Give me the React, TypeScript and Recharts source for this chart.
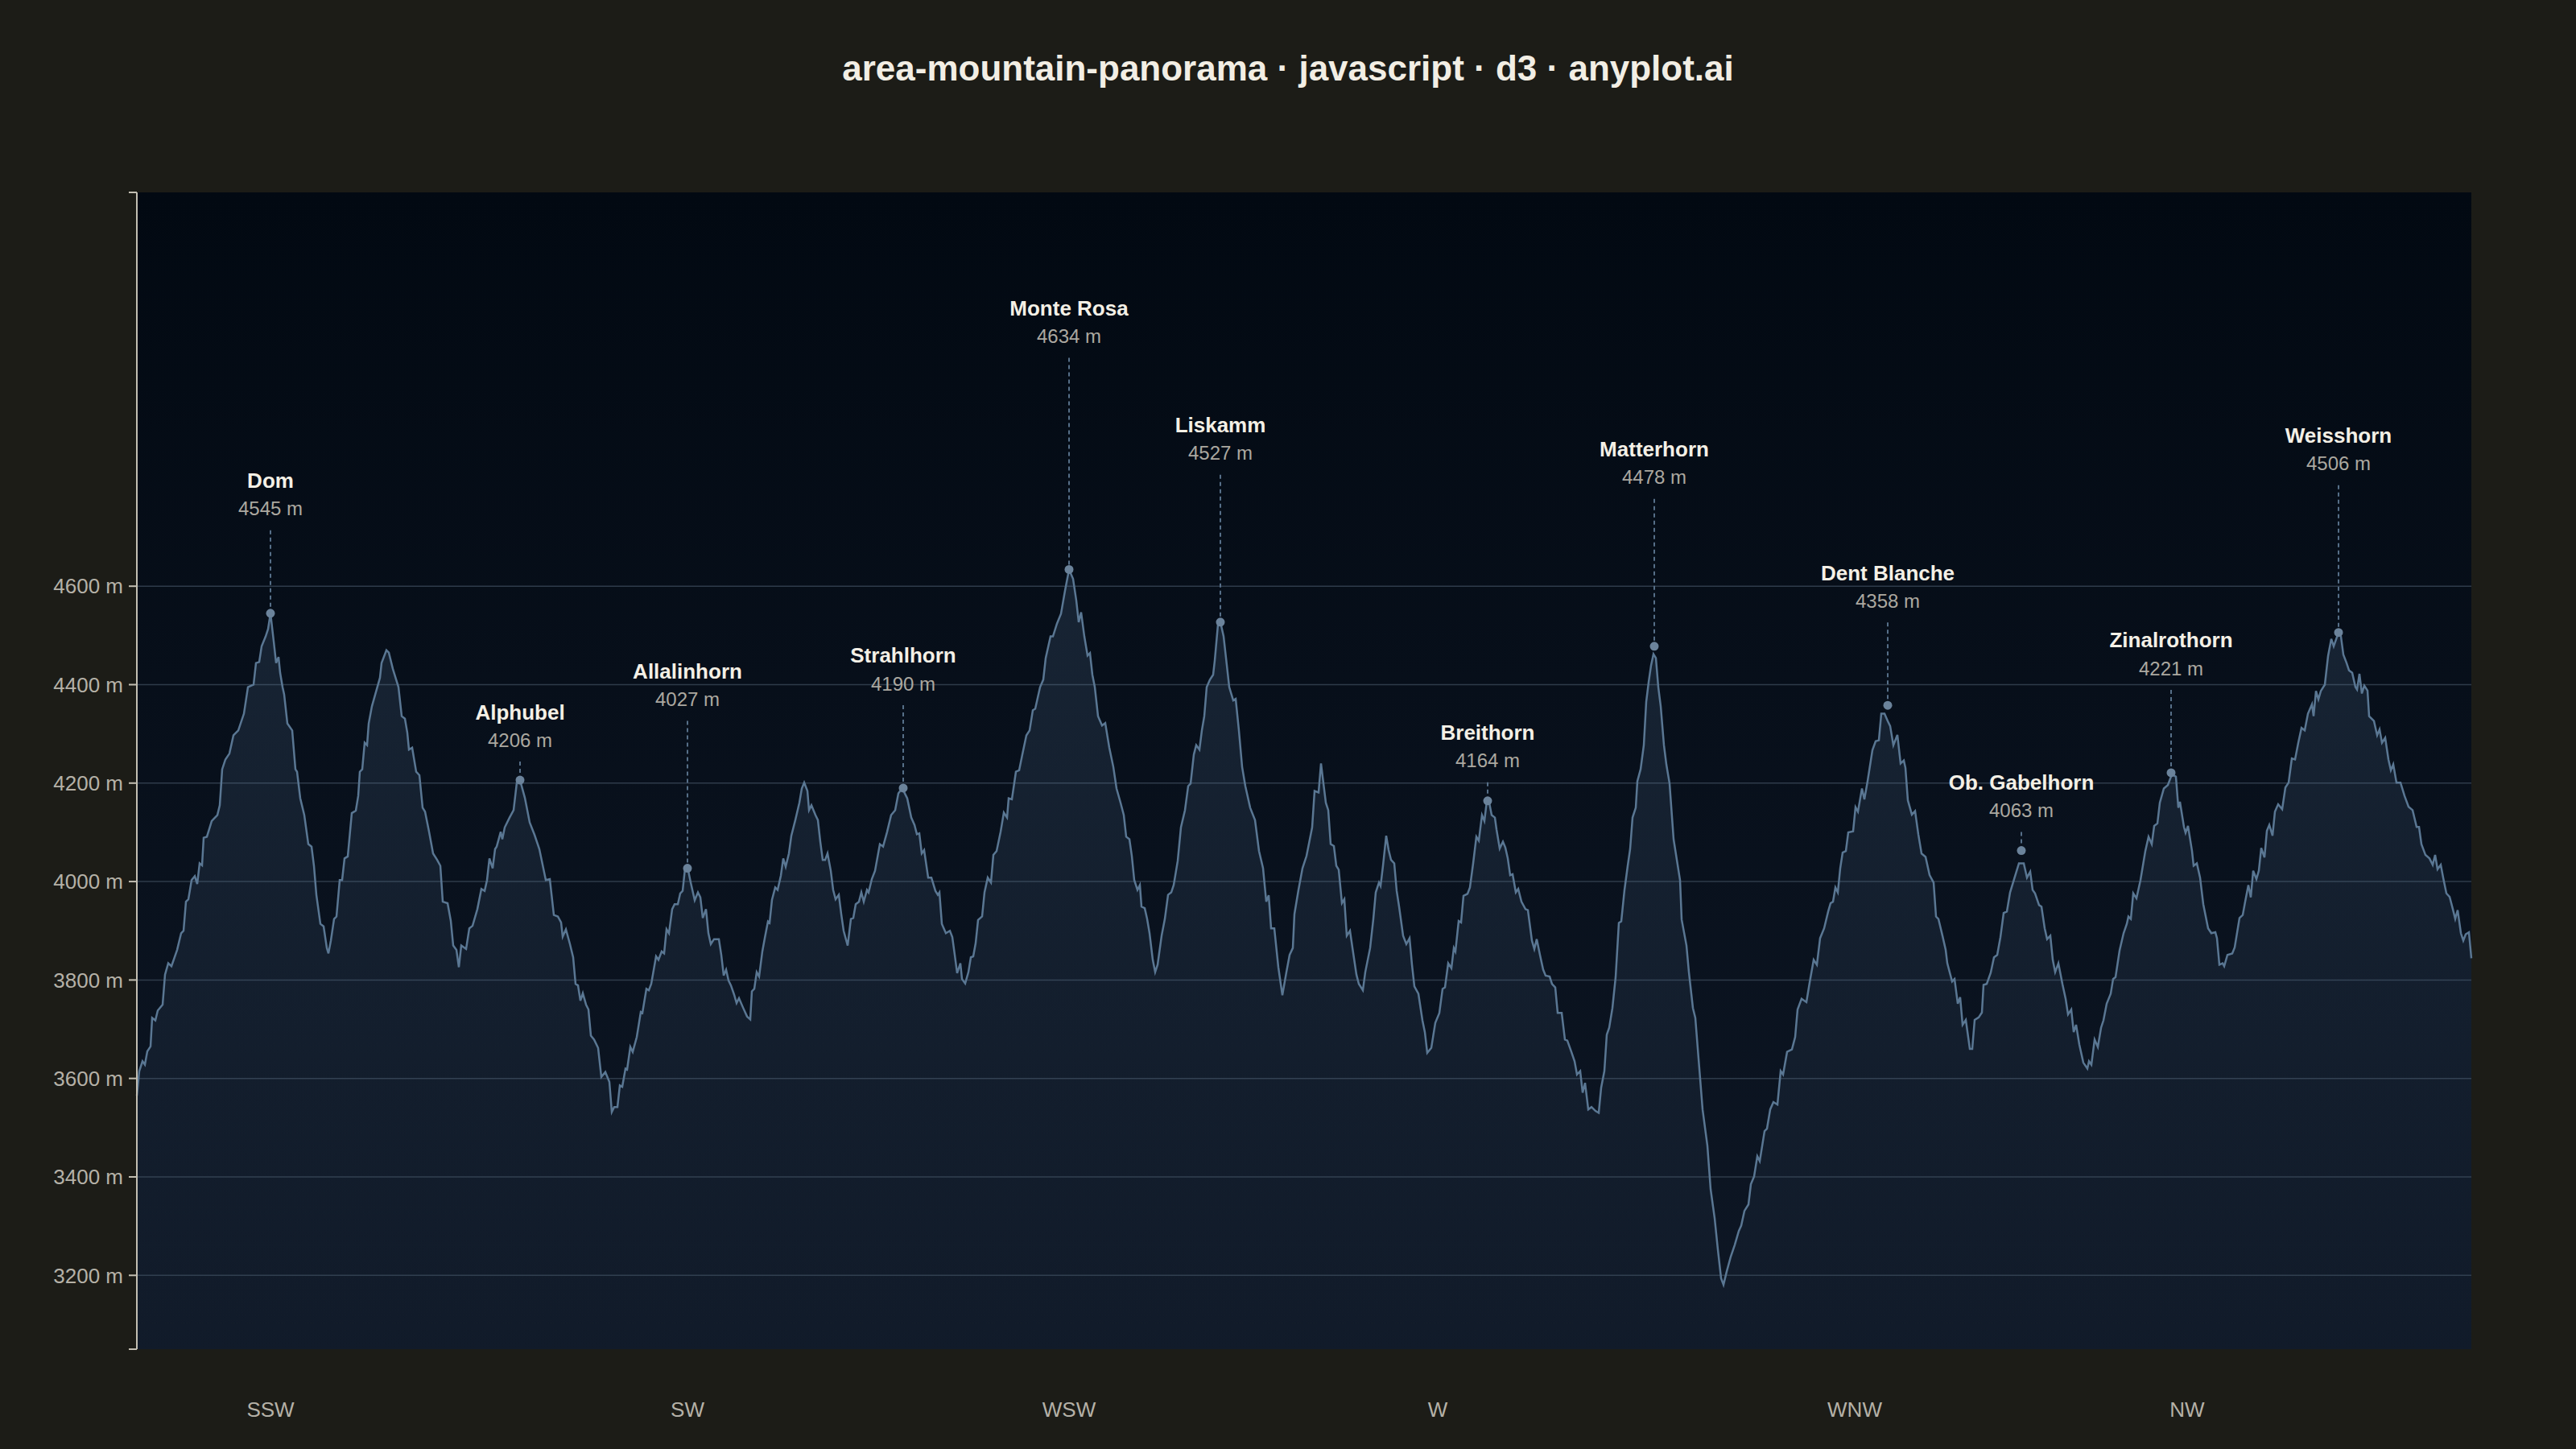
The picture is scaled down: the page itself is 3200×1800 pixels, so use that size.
import { Area, CartesianGrid, ComposedChart, Scatter, XAxis, YAxis } from "recharts";

// ridge profile, [position along panorama, elevation in m], read sector by sector
const ridgeSSW: [number, number][] = [
  [0, 3565], [3, 3615], [7, 3635], [10, 3628], [13, 3655], [17, 3665], [19, 3723], [23, 3718], [26, 3738], [32, 3750],
  [35, 3811], [39, 3834], [43, 3828], [50, 3861], [55, 3895], [58, 3900], [61, 3959], [64, 3964], [68, 4003], [72, 4011],
  [75, 3995], [78, 4037], [81, 4033], [83, 4089], [87, 4091], [93, 4123], [100, 4135], [103, 4155], [106, 4228], [110, 4248],
  [115, 4260], [120, 4297], [126, 4307], [133, 4341], [138, 4395], [145, 4400], [148, 4444], [152, 4446], [155, 4478], [160, 4498],
  [163, 4513], [166, 4545], [170, 4488], [173, 4444], [176, 4456], [178, 4424], [181, 4395], [183, 4380], [187, 4321], [193, 4307],
  [197, 4228], [199, 4223], [203, 4169], [208, 4135], [213, 4076], [217, 4071], [220, 4032], [223, 3973], [228, 3914], [232, 3909],
  [236, 3865], [238, 3854], [241, 3880], [245, 3924], [248, 3929], [252, 4003], [255, 4003], [258, 4047], [262, 4051], [267, 4139],
  [272, 4144], [275, 4174], [277, 4223], [280, 4228], [283, 4282], [286, 4277], [288, 4321], [292, 4356], [297, 4385], [302, 4414],
  [304, 4444], [310, 4470], [313, 4465], [318, 4432], [325, 4395], [329, 4336], [333, 4331], [336, 4302], [338, 4268], [342, 4272],
  [347, 4223], [351, 4216], [355, 4150], [358, 4142], [363, 4101], [368, 4057], [373, 4044], [377, 4032], [380, 3959], [386, 3956],
  [390, 3920], [393, 3870], [397, 3861], [400, 3826], [403, 3870], [409, 3863], [413, 3905], [417, 3910],
];

const ridgeSW: [number, number][] = [
  [423, 3944], [428, 3985], [432, 3981], [435, 4003], [438, 4047], [442, 4027], [445, 4066], [447, 4071], [452, 4101], [454, 4086],
  [457, 4110], [463, 4130], [468, 4145], [472, 4201], [476, 4206], [482, 4170], [488, 4120], [494, 4095], [500, 4066], [508, 4003],
  [513, 4005], [518, 3932], [523, 3929], [527, 3917], [529, 3888], [533, 3903], [538, 3873], [542, 3846], [545, 3792], [548, 3789],
  [551, 3758], [554, 3773], [558, 3750], [561, 3740], [564, 3687], [568, 3679], [573, 3662], [577, 3603], [582, 3613], [587, 3593],
  [590, 3532], [593, 3542], [597, 3542], [600, 3586], [603, 3583], [607, 3620], [609, 3618], [613, 3664], [616, 3654], [621, 3684],
  [626, 3735], [628, 3733], [633, 3782], [636, 3779], [639, 3792], [645, 3848], [648, 3841], [652, 3858], [655, 3854], [658, 3903],
  [661, 3895], [665, 3944], [668, 3954], [672, 3954], [675, 3976], [678, 3981], [681, 4027], [684, 4030], [688, 3998], [693, 3962],
  [697, 3978], [700, 3968], [703, 3926], [707, 3944], [710, 3895], [713, 3873], [717, 3883], [723, 3883], [726, 3851], [729, 3809],
  [732, 3821], [735, 3799], [738, 3789], [742, 3770], [745, 3753], [748, 3763], [753, 3744], [758, 3726], [762, 3720], [764, 3777],
  [767, 3782], [770, 3816], [773, 3807], [777, 3858], [780, 3885], [784, 3919], [786, 3916], [789, 3963], [793, 3988], [796, 3983],
  [800, 4012], [803, 4047], [806, 4030], [810, 4057], [813, 4093], [818, 4125], [823, 4160], [826, 4189], [829, 4201], [833, 4184],
  [835, 4145], [838, 4155], [843, 4135], [846, 4125], [849, 4081], [852, 4044], [855, 4044], [858, 4057], [862, 4022], [865, 3983],
  [868, 3964], [872, 3973], [875, 3934], [878, 3900], [883, 3870], [887, 3924], [890, 3926], [893, 3954], [897, 3959],
];

const ridgeWSW: [number, number][] = [
  [900, 3978], [903, 3959], [907, 3983], [909, 3978], [913, 4005], [917, 4022], [923, 4076], [927, 4071], [932, 4101], [937, 4135],
  [942, 4145], [946, 4179], [951, 4190], [954, 4179], [957, 4169], [962, 4130], [966, 4115], [969, 4096], [972, 4098], [975, 4057],
  [978, 4064], [983, 4008], [987, 4008], [992, 3981], [995, 3973], [997, 3978], [1000, 3914], [1005, 3895], [1010, 3900], [1013, 3887],
  [1016, 3851], [1019, 3814], [1023, 3834], [1025, 3802], [1029, 3793], [1033, 3816], [1036, 3846], [1039, 3848], [1042, 3875], [1045, 3922],
  [1050, 3929], [1053, 3978], [1057, 4008], [1061, 3998], [1064, 4054], [1068, 4062], [1073, 4101], [1077, 4140], [1081, 4130], [1083, 4169],
  [1087, 4167], [1092, 4223], [1096, 4226], [1100, 4258], [1105, 4297], [1109, 4307], [1113, 4348], [1116, 4351], [1122, 4395], [1126, 4410],
  [1129, 4454], [1135, 4498], [1138, 4498], [1143, 4524], [1148, 4544], [1153, 4591], [1158, 4634], [1163, 4615], [1167, 4571], [1170, 4527],
  [1173, 4547], [1177, 4498], [1181, 4459], [1184, 4464], [1187, 4420], [1190, 4395], [1194, 4336], [1199, 4317], [1203, 4322], [1208, 4272],
  [1213, 4233], [1217, 4189], [1222, 4160], [1226, 4135], [1229, 4091], [1233, 4086], [1236, 4052], [1239, 4003], [1243, 3983], [1246, 3993],
  [1248, 3949], [1252, 3946], [1255, 3924], [1258, 3895], [1262, 3841], [1265, 3816], [1268, 3831], [1273, 3890], [1277, 3924], [1281, 3973],
  [1285, 3978], [1288, 3993], [1293, 4042], [1297, 4110], [1302, 4145], [1306, 4194], [1309, 4199], [1313, 4258], [1316, 4277], [1320, 4268],
  [1323, 4307], [1326, 4336], [1329, 4395], [1333, 4410], [1337, 4420], [1339, 4449], [1343, 4522], [1346, 4527], [1350, 4498], [1353, 4454],
  [1357, 4395], [1362, 4368], [1365, 4371], [1369, 4307], [1373, 4233], [1377, 4194], [1383, 4150], [1389, 4125], [1394, 4062], [1399, 4027],
];

const ridgeW: [number, number][] = [
  [1403, 3959], [1406, 3972], [1409, 3905], [1413, 3905], [1418, 3826], [1423, 3769], [1428, 3816], [1432, 3851], [1436, 3865], [1438, 3934],
  [1443, 3983], [1448, 4027], [1453, 4052], [1460, 4110], [1463, 4184], [1468, 4181], [1471, 4240], [1473, 4213], [1477, 4160], [1480, 4145],
  [1483, 4076], [1487, 4072], [1490, 4032], [1493, 4024], [1497, 3956], [1500, 3964], [1503, 3890], [1507, 3900], [1510, 3866], [1515, 3811],
  [1518, 3792], [1523, 3779], [1526, 3816], [1532, 3865], [1536, 3924], [1539, 3978], [1543, 3998], [1545, 3991], [1548, 4032], [1552, 4093],
  [1555, 4064], [1558, 4044], [1562, 4037], [1565, 3981], [1568, 3949], [1573, 3890], [1577, 3873], [1581, 3885], [1584, 3831], [1587, 3787],
  [1592, 3772], [1597, 3718], [1600, 3694], [1603, 3652], [1608, 3662], [1613, 3713], [1618, 3733], [1622, 3782], [1625, 3785], [1629, 3834],
  [1633, 3824], [1636, 3865], [1638, 3858], [1642, 3920], [1645, 3917], [1648, 3971], [1653, 3975], [1656, 3988], [1660, 4037], [1664, 4091],
  [1667, 4083], [1671, 4135], [1674, 4123], [1677, 4164], [1680, 4160], [1683, 4135], [1687, 4130], [1689, 4106], [1693, 4067], [1697, 4081],
  [1700, 4069], [1703, 4047], [1706, 4013], [1709, 4015], [1713, 3978], [1716, 3985], [1720, 3959], [1725, 3944], [1728, 3942], [1733, 3880],
  [1736, 3863], [1739, 3883], [1743, 3851], [1747, 3821], [1750, 3809], [1755, 3807], [1758, 3792], [1762, 3785], [1765, 3733], [1770, 3733],
  [1774, 3679], [1777, 3677], [1782, 3654], [1786, 3635], [1789, 3608], [1793, 3615], [1796, 3571], [1799, 3591], [1803, 3537], [1807, 3542],
  [1812, 3534], [1816, 3530], [1819, 3581], [1823, 3615], [1826, 3689], [1829, 3703], [1833, 3743], [1837, 3806], [1841, 3916], [1844, 3919],
  [1848, 3983], [1852, 4032], [1855, 4066], [1858, 4130], [1862, 4150], [1864, 4204], [1868, 4228], [1872, 4277], [1875, 4365], [1878, 4405],
  [1881, 4439], [1884, 4462], [1887, 4454], [1890, 4395], [1893, 4356], [1897, 4277],
];

const ridgeWNW: [number, number][] = [
  [1900, 4238], [1904, 4199], [1909, 4086], [1917, 4003], [1919, 3923], [1925, 3870], [1928, 3816], [1933, 3743], [1936, 3723], [1940, 3640],
  [1945, 3537], [1951, 3463], [1955, 3375], [1960, 3316], [1964, 3252], [1968, 3194], [1971, 3181], [1975, 3208], [1980, 3238], [1985, 3262],
  [1990, 3290], [1993, 3301], [1997, 3331], [2002, 3344], [2005, 3385], [2009, 3401], [2013, 3442], [2016, 3432], [2022, 3493], [2025, 3498],
  [2029, 3537], [2033, 3552], [2038, 3547], [2042, 3615], [2045, 3608], [2050, 3654], [2056, 3659], [2060, 3684], [2063, 3740], [2068, 3762],
  [2074, 3755], [2078, 3795], [2083, 3841], [2087, 3831], [2091, 3885], [2096, 3905], [2101, 3939], [2104, 3956], [2107, 3959], [2110, 3988],
  [2113, 3978], [2116, 4027], [2119, 4059], [2123, 4062], [2126, 4100], [2132, 4102], [2135, 4151], [2138, 4142], [2143, 4189], [2146, 4167],
  [2150, 4204], [2156, 4267], [2160, 4285], [2164, 4287], [2167, 4341], [2171, 4341], [2175, 4326], [2178, 4316], [2182, 4277], [2187, 4298],
  [2191, 4240], [2195, 4246], [2197, 4231], [2200, 4165], [2205, 4136], [2209, 4143], [2213, 4096], [2217, 4057], [2222, 4050], [2227, 4013],
  [2232, 3998], [2235, 3929], [2238, 3924], [2243, 3890], [2247, 3861], [2249, 3834], [2255, 3797], [2258, 3802], [2262, 3752], [2265, 3765],
  [2268, 3709], [2272, 3719], [2277, 3660], [2280, 3660], [2283, 3719], [2288, 3724], [2292, 3734], [2294, 3790], [2298, 3792], [2303, 3815],
  [2307, 3846], [2311, 3851], [2315, 3887], [2319, 3936], [2323, 3939], [2327, 3978], [2332, 4005], [2338, 4037], [2344, 4037], [2348, 4008],
  [2352, 4020], [2355, 3983], [2358, 3976], [2363, 3952], [2366, 3949], [2370, 3905], [2373, 3883], [2377, 3890], [2380, 3841], [2383, 3816],
  [2387, 3834], [2392, 3792], [2396, 3762],
];

const ridgeNW: [number, number][] = [
  [2399, 3730], [2403, 3740], [2406, 3694], [2409, 3709], [2413, 3669], [2418, 3632], [2423, 3620], [2425, 3635], [2428, 3628], [2432, 3679],
  [2436, 3664], [2440, 3703], [2443, 3718], [2447, 3752], [2452, 3772], [2455, 3802], [2458, 3806], [2463, 3860], [2468, 3895], [2472, 3914],
  [2474, 3929], [2477, 3924], [2480, 3976], [2484, 3966], [2489, 4003], [2495, 4062], [2499, 4091], [2503, 4076], [2506, 4113], [2510, 4118],
  [2513, 4160], [2518, 4189], [2523, 4196], [2528, 4218], [2533, 4213], [2536, 4150], [2538, 4162], [2543, 4111], [2545, 4099], [2548, 4113],
  [2553, 4062], [2555, 4032], [2559, 4037], [2563, 4008], [2567, 3954], [2573, 3905], [2577, 3895], [2582, 3897], [2584, 3885], [2587, 3831],
  [2591, 3834], [2593, 3828], [2597, 3851], [2603, 3854], [2606, 3866], [2612, 3926], [2616, 3932], [2619, 3959], [2623, 3993], [2626, 3968],
  [2629, 4022], [2633, 4005], [2636, 4022], [2639, 4068], [2643, 4049], [2646, 4103], [2649, 4115], [2653, 4093], [2656, 4142], [2660, 4157],
  [2665, 4147], [2669, 4191], [2673, 4201], [2677, 4250], [2681, 4248], [2685, 4282], [2689, 4312], [2693, 4307], [2697, 4341], [2702, 4360],
  [2704, 4336], [2707, 4387], [2710, 4370], [2713, 4387], [2718, 4400], [2722, 4458], [2726, 4493], [2729, 4478], [2735, 4506], [2738, 4498],
  [2741, 4461], [2745, 4444], [2748, 4429], [2752, 4424], [2756, 4395], [2758, 4390], [2761, 4422], [2764, 4382], [2767, 4398], [2771, 4388],
  [2773, 4336], [2779, 4326], [2783, 4297], [2786, 4309], [2789, 4282], [2793, 4292], [2797, 4248], [2800, 4226], [2803, 4238], [2807, 4201],
  [2812, 4201], [2817, 4174], [2822, 4152], [2827, 4145], [2832, 4111], [2835, 4111], [2838, 4076], [2843, 4054], [2848, 4047], [2852, 4034],
  [2855, 4054], [2858, 4025], [2862, 4034], [2865, 4008], [2869, 3976], [2873, 3969], [2877, 3944], [2880, 3924], [2883, 3942], [2887, 3895],
  [2890, 3880], [2893, 3893], [2897, 3897], [2900, 3844],
];

const peakNames = [
  "Dom", "Alphubel", "Allalinhorn", "Strahlhorn", "Monte Rosa", "Liskamm",
  "Breithorn", "Matterhorn", "Dent Blanche", "Ob. Gabelhorn", "Zinalrothorn", "Weisshorn",
];
const peakPos = [166, 476, 684, 952, 1158, 1346, 1678, 1885, 2175, 2341, 2527, 2735];
const peakElev = [4545, 4206, 4027, 4190, 4634, 4527, 4164, 4478, 4358, 4063, 4221, 4506];

const directionLabels = ["SSW", "SW", "WSW", "W", "WNW", "NW"];
const directionPos = [166, 684, 1158, 1616, 2134, 2547];

const elevTicks = [3200, 3400, 3600, 3800, 4000, 4200, 4400, 4600];
const elevDomain: [number, number] = [3050, 5400];

// label stacking level per peak (0 = just above the summit)
const labelTier = [1, 0, 2, 1, 3, 2, 0, 2, 1, 0, 1, 2];

const FONT = '"Liberation Sans", Arial, Helvetica, sans-serif';

const ridge = [...ridgeSSW, ...ridgeSW, ...ridgeWSW, ...ridgeW, ...ridgeWNW, ...ridgeNW].map(([pos, elev]) => ({
  pos,
  elev,
}));

const peaks = peakNames.map((name, i) => ({
  name,
  pos: peakPos[i],
  elev: peakElev[i],
  tier: labelTier[i],
}));

function PeakMarker(props: any) {
  const { cx, cy, payload } = props;
  if (cx == null || cy == null) return null;
  const lift = 85 + 80 * payload.tier;
  const nameY = cy - lift;
  const valueY = nameY + 35;
  return (
    <g>
      <line
        x1={cx}
        y1={valueY + 27}
        x2={cx}
        y2={cy - 6}
        stroke="#566f88"
        strokeWidth={2}
        strokeDasharray="5 4"
      />
      <circle cx={cx} cy={cy} r={5.5} fill="#6b839b" />
      <text
        x={cx}
        y={nameY + 9.4}
        textAnchor="middle"
        fontFamily={FONT}
        fontWeight={700}
        fontSize={26}
        fill="#f4f0e6"
      >
        {payload.name}
      </text>
      <text x={cx} y={valueY + 8.6} textAnchor="middle" fontFamily={FONT} fontSize={24} fill="#aba8a0">
        {`${payload.elev} m`}
      </text>
    </g>
  );
}

export default function App() {
  return (
    <div style={{ position: "absolute", left: 0, top: 0, width: 3200, height: 1800, background: "#1c1c17" }}>
      <div
        style={{
          position: "absolute",
          left: 0,
          top: 63,
          width: 3200,
          textAlign: "center",
          fontFamily: FONT,
          fontWeight: 700,
          fontSize: 44,
          lineHeight: "44px",
          color: "#f2eee4",
        }}
      >
        area-mountain-panorama · javascript · d3 · anyplot.ai
      </div>
      <ComposedChart
        width={3200}
        height={1800}
        data={ridge}
        margin={{ top: 239, right: 130, bottom: 0, left: 0 }}
        style={{ position: "absolute", left: 0, top: 0 }}
      >
        <defs>
          <linearGradient id="plotBg" x1="0" y1="0" x2="0" y2="1">
            <stop offset="0%" stopColor="#020912" />
            <stop offset="100%" stopColor="#0e1725" />
          </linearGradient>
          <linearGradient id="ridgeFill" x1="0" y1="0" x2="0" y2="1">
            <stop offset="0%" stopColor="#7096c0" stopOpacity={0.27} />
            <stop offset="100%" stopColor="#7096c0" stopOpacity={0.05} />
          </linearGradient>
        </defs>
        <CartesianGrid
          vertical={false}
          horizontalValues={elevTicks}
          stroke="#2e3b4a"
          strokeWidth={1.5}
          fill="url(#plotBg)"
        />
        <XAxis
          dataKey="pos"
          type="number"
          domain={[0, 2900]}
          ticks={directionPos}
          interval={0}
          tickFormatter={(v: number) => directionLabels[directionPos.indexOf(v)] ?? ""}
          axisLine={false}
          tickLine={false}
          tickSize={0}
          tickMargin={66}
          height={124}
          tick={{ fill: "#b5b1a7", fontSize: 26, fontFamily: FONT }}
        />
        <YAxis
          type="number"
          domain={elevDomain}
          ticks={[elevDomain[0], ...elevTicks, elevDomain[1]]}
          interval={0}
          allowDataOverflow
          tickFormatter={(v: number) => (elevTicks.includes(v) ? `${v} m` : "")}
          width={170}
          tickSize={10}
          tickMargin={7}
          axisLine={{ stroke: "#c2beb2", strokeWidth: 2 }}
          tickLine={{ stroke: "#c2beb2", strokeWidth: 2 }}
          tick={{ fill: "#b5b1a7", fontSize: 26, fontFamily: FONT }}
        />
        <Area
          type="linear"
          dataKey="elev"
          stroke="#5a7793"
          strokeWidth={2.5}
          fill="url(#ridgeFill)"
          dot={false}
          activeDot={false}
          isAnimationActive={false}
        />
        <Scatter data={peaks} dataKey="elev" shape={PeakMarker} isAnimationActive={false} />
      </ComposedChart>
    </div>
  );
}
